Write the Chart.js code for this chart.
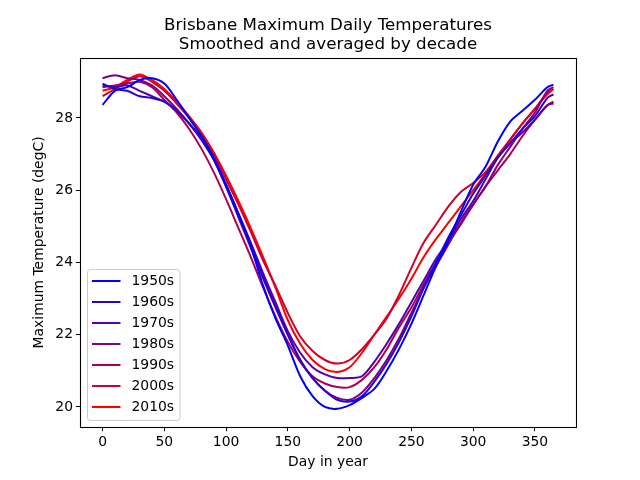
<!DOCTYPE html>
<html>
<head>
<meta charset="utf-8">
<script src="https://cdn.jsdelivr.net/npm/chart.js@4.4.0/dist/chart.umd.min.js"></script>
<style>
  html, body { margin: 0; padding: 0; background: #fff; }
  #wrap { width: 640px; height: 480px; }
</style>
</head>
<body>
<div id="wrap"><canvas id="chart" width="640" height="480"></canvas></div>
<script>
// day of year sampled every 10 days
const days = [0, 10, 20, 30, 40, 50, 60, 70, 80, 90, 100, 110, 120, 130, 140, 150, 160, 170, 180,
    190, 200, 210, 220, 230, 240, 250, 260, 270, 280, 290, 300, 310, 320, 330, 340, 350, 360, 365];

const decades = ['1950s', '1960s', '1970s', '1980s', '1990s', '2000s', '2010s'];

const temps1950s = [28.36, 28.75, 28.85, 29.05, 29.1, 28.95, 28.5, 28.0, 27.5, 26.9, 26.15, 25.35, 24.45, 23.35, 22.45, 21.7, 20.85, 20.3, 20.0,
    19.95, 20.05, 20.25, 20.5, 21.0, 21.6, 22.3, 23.1, 23.9, 24.6, 25.4, 26.15, 26.65, 27.35, 27.9, 28.2, 28.5, 28.85, 28.92];
const temps1960s = [28.95, 28.8, 28.75, 28.6, 28.55, 28.45, 28.2, 27.85, 27.4, 26.85, 26.1, 25.3, 24.5, 23.6, 22.8, 22.0, 21.3, 20.8, 20.45,
    20.2, 20.15, 20.3, 20.7, 21.2, 21.8, 22.5, 23.3, 24.0, 24.7, 25.3, 25.9, 26.4, 26.9, 27.3, 27.7, 28.05, 28.55, 28.65];
const temps1970s = [28.9, 28.85, 28.9, 28.75, 28.6, 28.45, 28.2, 27.85, 27.45, 26.9, 26.15, 25.35, 24.55, 23.7, 22.9, 22.1, 21.5, 21.1, 20.9,
    20.8, 20.8, 20.85, 21.25, 21.75, 22.3, 22.9, 23.5, 24.1, 24.6, 25.2, 25.7, 26.3, 26.9, 27.3, 27.6, 27.95, 28.35, 28.4];
const temps1980s = [29.1, 29.18, 29.1, 29.05, 28.9, 28.6, 28.25, 27.85, 27.4, 26.85, 26.1, 25.25, 24.4, 23.55, 22.75, 22.0, 21.3, 20.8, 20.45,
    20.25, 20.2, 20.4, 20.8, 21.3, 21.9, 22.6, 23.3, 23.9, 24.5, 25.1, 25.6, 26.1, 26.7, 27.2, 27.7, 28.15, 28.75, 28.85];
const temps1990s = [28.85, 28.9, 28.95, 29.0, 28.85, 28.5, 28.15, 27.7, 27.15, 26.5, 25.75, 24.95, 24.15, 23.3, 22.5, 21.8, 21.25, 20.85, 20.65,
    20.55, 20.55, 20.75, 21.1, 21.6, 22.2, 22.75, 23.4, 24.0, 24.55, 25.05, 25.6, 26.1, 26.55, 27.0, 27.5, 27.95, 28.35, 28.45];
const temps2000s = [28.6, 28.8, 29.0, 29.15, 29.0, 28.75, 28.4, 28.0, 27.55, 27.0, 26.3, 25.6, 24.85, 24.05, 23.35, 22.6, 21.95, 21.55, 21.3,
    21.2, 21.3, 21.6, 22.0, 22.45, 23.1, 23.85, 24.55, 25.05, 25.55, 25.95, 26.2, 26.5, 26.95, 27.4, 27.85, 28.25, 28.7, 28.8];
const temps2010s = [28.75, 28.85, 29.05, 29.2, 29.05, 28.8, 28.45, 28.05, 27.6, 27.05, 26.4, 25.7, 24.95, 24.15, 23.3, 22.4, 21.75, 21.3, 21.05,
    20.97, 21.1, 21.5, 22.0, 22.5, 23.0, 23.55, 24.15, 24.65, 25.1, 25.55, 26.0, 26.45, 26.95, 27.4, 27.85, 28.25, 28.65, 28.8];

const allTemps = [temps1950s, temps1960s, temps1970s, temps1980s, temps1990s, temps2000s, temps2010s];

const xTicks = [0, 50, 100, 150, 200, 250, 300, 350];
const yTicks = [20, 22, 24, 26, 28];

const titleLines = ['Brisbane Maximum Daily Temperatures', 'Smoothed and averaged by decade'];
const xLabel = 'Day in year';
const yLabel = 'Maximum Temperature (degC)';

const FONT = 'DejaVu Sans';

// blue -> red by decade
function decadeColor(i) {
    const r = Math.round(255 * i / 6);
    return `rgb(${r}, 0, ${255 - r})`;
}

const frameAndLegend = {
    id: 'frameAndLegend',
    afterDatasetsDraw(chart) {
        const ctx = chart.ctx;
        const a = chart.chartArea;
        ctx.save();

        // axes box
        ctx.strokeStyle = '#000';
        ctx.lineWidth = 1.1;
        ctx.strokeRect(Math.round(a.left) + 0.5, Math.round(a.top) + 0.5,
            Math.round(a.right) - Math.round(a.left), Math.round(a.bottom) - Math.round(a.top));

        // legend, lower left
        const bx = 87.5, by = 269.5, bw = 92.5, bh = 151;
        ctx.beginPath();
        ctx.roundRect(bx, by, bw, bh, 3);
        ctx.fillStyle = 'rgba(255,255,255,0.8)';
        ctx.fill();
        ctx.strokeStyle = '#cccccc';
        ctx.lineWidth = 1;
        ctx.stroke();

        ctx.font = `13.9px "${FONT}"`;
        ctx.textBaseline = 'middle';
        ctx.textAlign = 'left';
        chart.data.datasets.forEach((ds, i) => {
            const y = 281 + i * 21;
            ctx.strokeStyle = ds.borderColor;
            ctx.lineWidth = 2;
            ctx.beginPath();
            ctx.moveTo(92, y);
            ctx.lineTo(120.5, y);
            ctx.stroke();
            ctx.fillStyle = '#000';
            ctx.fillText(ds.label, 131.5, y + 0.5);
        });
        ctx.restore();
    }
};

const tickFont = { family: FONT, size: 13.9 };

new Chart(document.getElementById('chart'), {
    type: 'line',
    data: {
        datasets: decades.map((label, i) => ({
            label: label,
            data: days.map((d, j) => ({ x: d, y: allTemps[i][j] })),
            borderColor: decadeColor(i),
            backgroundColor: decadeColor(i),
            borderWidth: 2,
            pointRadius: 0,
            tension: 0.3,
            fill: false
        }))
    },
    options: {
        responsive: false,
        animation: false,
        devicePixelRatio: 1,
        layout: { padding: { left: 0, right: 64, top: 0, bottom: 0 } },
        plugins: {
            legend: { display: false },
            tooltip: { enabled: false },
            title: {
                display: true,
                fullSize: false,
                text: titleLines,
                color: '#000',
                font: { family: FONT, size: 16.7, weight: 'normal', lineHeight: 1.14 },
                padding: { top: 16, bottom: 3.5 }
            }
        },
        scales: {
            x: {
                type: 'linear',
                min: -18.25,
                max: 383.25,
                afterBuildTicks: s => { s.ticks = xTicks.map(v => ({ value: v })); },
                afterFit: s => { s.height = 52.8; s.paddingLeft = 0; s.paddingRight = 0; },
                ticks: { font: tickFont, color: '#000', padding: 3, maxRotation: 0, autoSkip: false },
                grid: { display: true, drawOnChartArea: false, drawTicks: true, tickLength: 4, color: '#000' },
                border: { display: false },
                title: { display: true, text: xLabel, color: '#000', font: tickFont, padding: { top: 0, bottom: 9 } }
            },
            y: {
                type: 'linear',
                min: 19.44,
                max: 29.67,
                afterBuildTicks: s => { s.ticks = yTicks.map(v => ({ value: v })); },
                afterFit: s => { s.width = 80; s.paddingTop = 0; s.paddingBottom = 0; },
                ticks: { font: tickFont, color: '#000', padding: 3 },
                grid: { display: true, drawOnChartArea: false, drawTicks: true, tickLength: 4, color: '#000' },
                border: { display: false },
                title: { display: true, text: yLabel, color: '#000', font: tickFont, padding: { top: 31, bottom: 0 } }
            }
        }
    },
    plugins: [frameAndLegend]
});
</script>
</body>
</html>
